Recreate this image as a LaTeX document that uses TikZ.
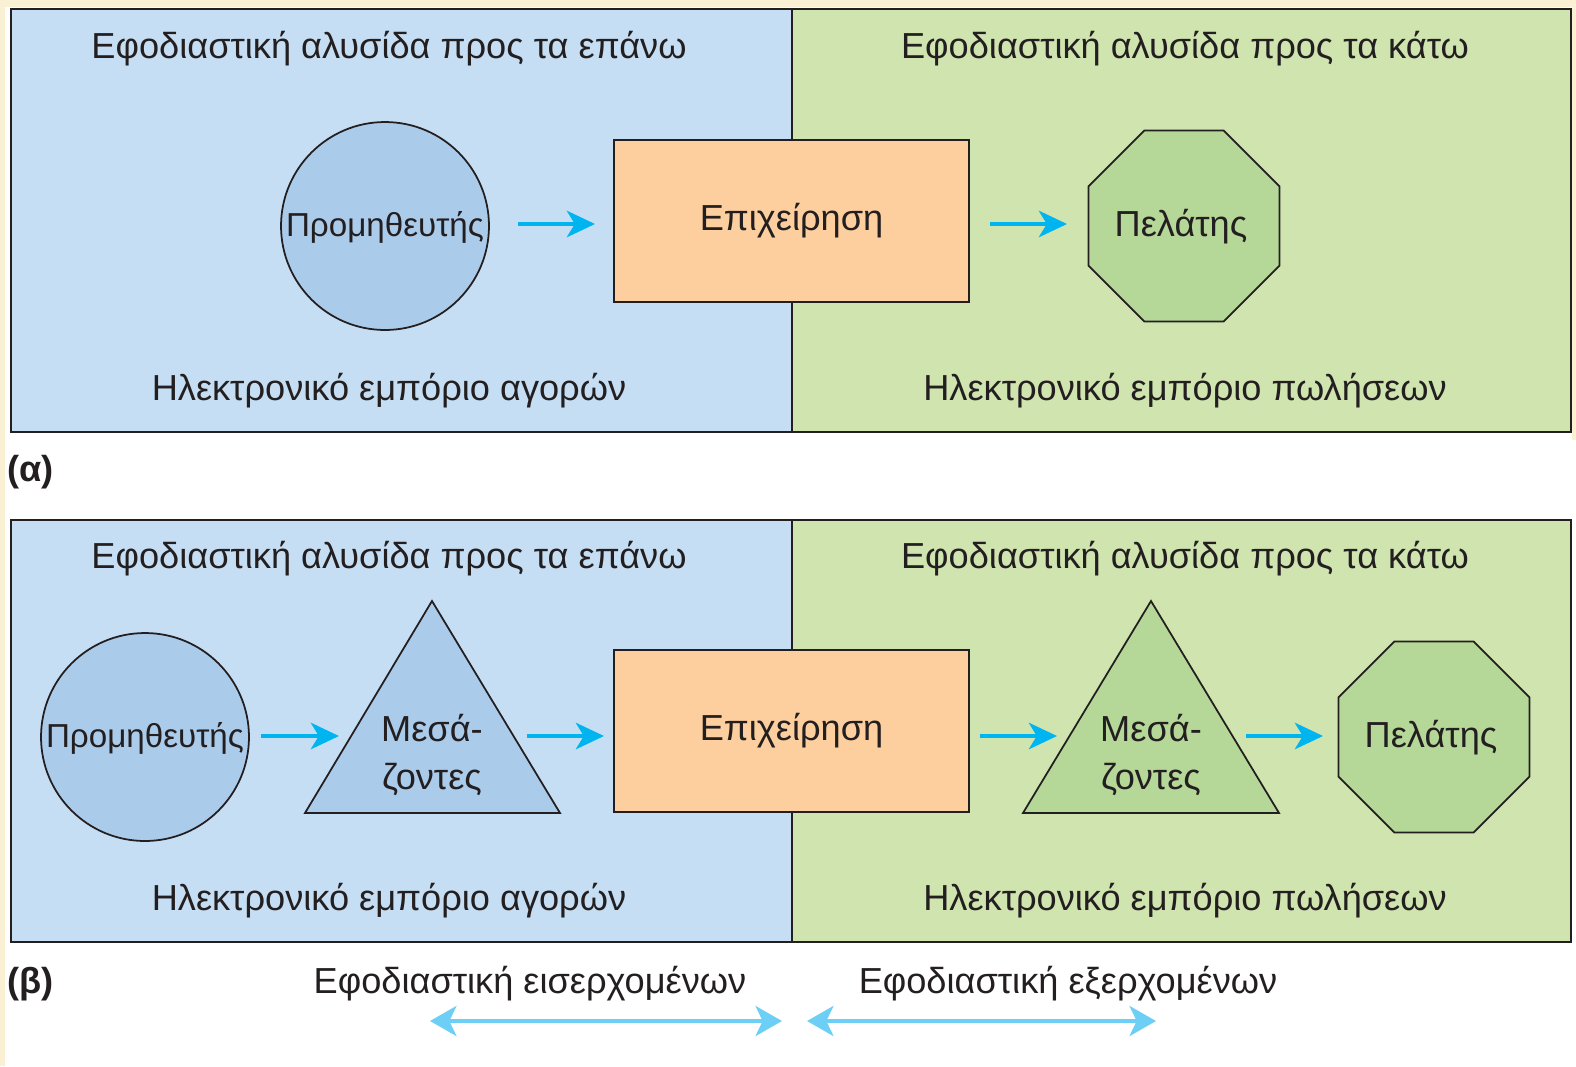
\documentclass[tikz,border=0pt]{standalone}
\usepackage{fontspec}
\setmainfont{Liberation Sans}
\usetikzlibrary{shapes.geometric,arrows.meta}
\definecolor{cream}{RGB}{250,240,212}
\definecolor{panelblue}{RGB}{198,222,243}
\definecolor{panelgreen}{RGB}{207,228,175}
\definecolor{shapeblue}{RGB}{171,203,235}
\definecolor{shapegreen}{RGB}{181,215,152}
\definecolor{boxorange}{RGB}{253,207,158}
\definecolor{flowcyan}{RGB}{0,180,240}
\definecolor{logblue}{RGB}{109,207,246}
\definecolor{ink}{RGB}{35,31,32}
\tikzset{
  txt/.style={font=\fontsize{20.6}{24}\selectfont, text=ink, inner sep=0pt},
  suptxt/.style={font=\fontsize{18.9}{22}\selectfont, text=ink, inner sep=0pt},
  panel/.style={draw=ink, line width=1.1pt},
  shapeline/.style={draw=ink, line width=1pt},
  circ/.style={shapeline, circle, fill=shapeblue, minimum size=4.16cm, inner sep=0pt},
  octa/.style={shapeline, regular polygon, regular polygon sides=8, fill=shapegreen, minimum size=4.14cm, inner sep=0pt},
  firm/.style={shapeline, rectangle, fill=boxorange, minimum width=7.1cm, minimum height=3.24cm, inner sep=0pt, txt},
  flow/.style={draw=flowcyan, line width=2.3pt, -{Stealth[length=16pt, width=15pt, inset=4.5pt]}},
  logi/.style={draw=logblue, line width=2.6pt, {Stealth[length=15pt, width=17pt, inset=4pt]}-{Stealth[length=15pt, width=17pt, inset=4pt]}},
  lab/.style={font=\bfseries\fontsize{20.6}{24}\selectfont, text=ink, inner sep=0pt},
}
\begin{document}
\begin{tikzpicture}[x=0.02cm, y=-0.02cm]
\useasboundingbox (0,0) rectangle (1576,1066);
\fill[white] (0,0) rectangle (1576,1066);
\fill[cream] (0,0) rectangle (1576,7);
\fill[cream] (0,0) rectangle (5,1066);
\fill[cream] (1572,0) rectangle (1576,440);

% ---------- panel (alpha) ----------
\fill[panelblue] (11,9) rectangle (792,432);
\fill[panelgreen] (792,9) rectangle (1571,432);
\draw[panel] (11,9) rectangle (1571,432);
\draw[panel] (792,9) -- (792,432);

\node[txt] (ha1) at (389,49) {Εφοδιαστική αλυσίδα προς τα επάνω};
\node[txt] (hb1) at (1185,49) {Εφοδιαστική αλυσίδα προς τα κάτω};
\node[txt] (fa1) at (389,391) {Ηλεκτρονικό εμπόριο αγορών};
\node[txt] (fb1) at (1185,391) {Ηλεκτρονικό εμπόριο πωλήσεων};

\node[circ] (sup1) at (385,226) {};
\node[suptxt] (sup1t) at (385,227) {Προμηθευτής};
\node[firm] (bus1) at (791.5,221) {Επιχείρηση};
\node[octa] (cus1) at (1184,226) {};
\node[txt] (cus1t) at (1181,227) {Πελάτης};

\coordinate (a1s) at (518,224);
\coordinate (a1e) at (595,224);
\coordinate (a2s) at (990,224);
\coordinate (a2e) at (1067,224);
\draw[flow] (a1s) -- (a1e);
\draw[flow] (a2s) -- (a2e);

\node[lab, anchor=west] (la) at (7,472) {(α)};

% ---------- panel (beta) ----------
\fill[panelblue] (11,520) rectangle (792,942);
\fill[panelgreen] (792,520) rectangle (1571,942);
\draw[panel] (11,520) rectangle (1571,942);
\draw[panel] (792,520) -- (792,942);

\node[txt] (ha2) at (389,559) {Εφοδιαστική αλυσίδα προς τα επάνω};
\node[txt] (hb2) at (1185,559) {Εφοδιαστική αλυσίδα προς τα κάτω};
\node[txt] (fa2) at (389,901) {Ηλεκτρονικό εμπόριο αγορών};
\node[txt] (fb2) at (1185,901) {Ηλεκτρονικό εμπόριο πωλήσεων};

\node[circ] (sup2) at (145,737) {};
\node[suptxt] (sup2t) at (145,738) {Προμηθευτής};

\draw[shapeline, fill=shapeblue] (432,601) -- (560,813) -- (305,813) -- cycle;
\node[txt, align=center] (mid1) at (432,755) {Μεσά-\\[3pt]ζοντες};

\node[firm] (bus2) at (791.5,731) {Επιχείρηση};

\draw[shapeline, fill=shapegreen] (1151,601) -- (1279,813) -- (1023,813) -- cycle;
\node[txt, align=center] (mid2) at (1151,755) {Μεσά-\\[3pt]ζοντες};

\node[octa] (cus2) at (1434,737) {};
\node[txt] (cus2t) at (1431,738) {Πελάτης};

\coordinate (b1s) at (261,736);
\coordinate (b1e) at (339,736);
\coordinate (b2s) at (527,736);
\coordinate (b2e) at (604,736);
\coordinate (b3s) at (980,736);
\coordinate (b3e) at (1057,736);
\coordinate (b4s) at (1246,736);
\coordinate (b4e) at (1323,736);
\draw[flow] (b1s) -- (b1e);
\draw[flow] (b2s) -- (b2e);
\draw[flow] (b3s) -- (b3e);
\draw[flow] (b4s) -- (b4e);

\node[lab, anchor=west] (lb) at (7,984) {(β)};

\node[txt] (inb) at (530,984) {Εφοδιαστική εισερχομένων};
\node[txt] (outb) at (1068,984) {Εφοδιαστική εξερχομένων};
\coordinate (l1s) at (430,1021);
\coordinate (l1e) at (782,1021);
\coordinate (l2s) at (807,1021);
\coordinate (l2e) at (1156,1021);
\draw[logi] (l1s) -- (l1e);
\draw[logi] (l2s) -- (l2e);
\end{tikzpicture}
\end{document}
